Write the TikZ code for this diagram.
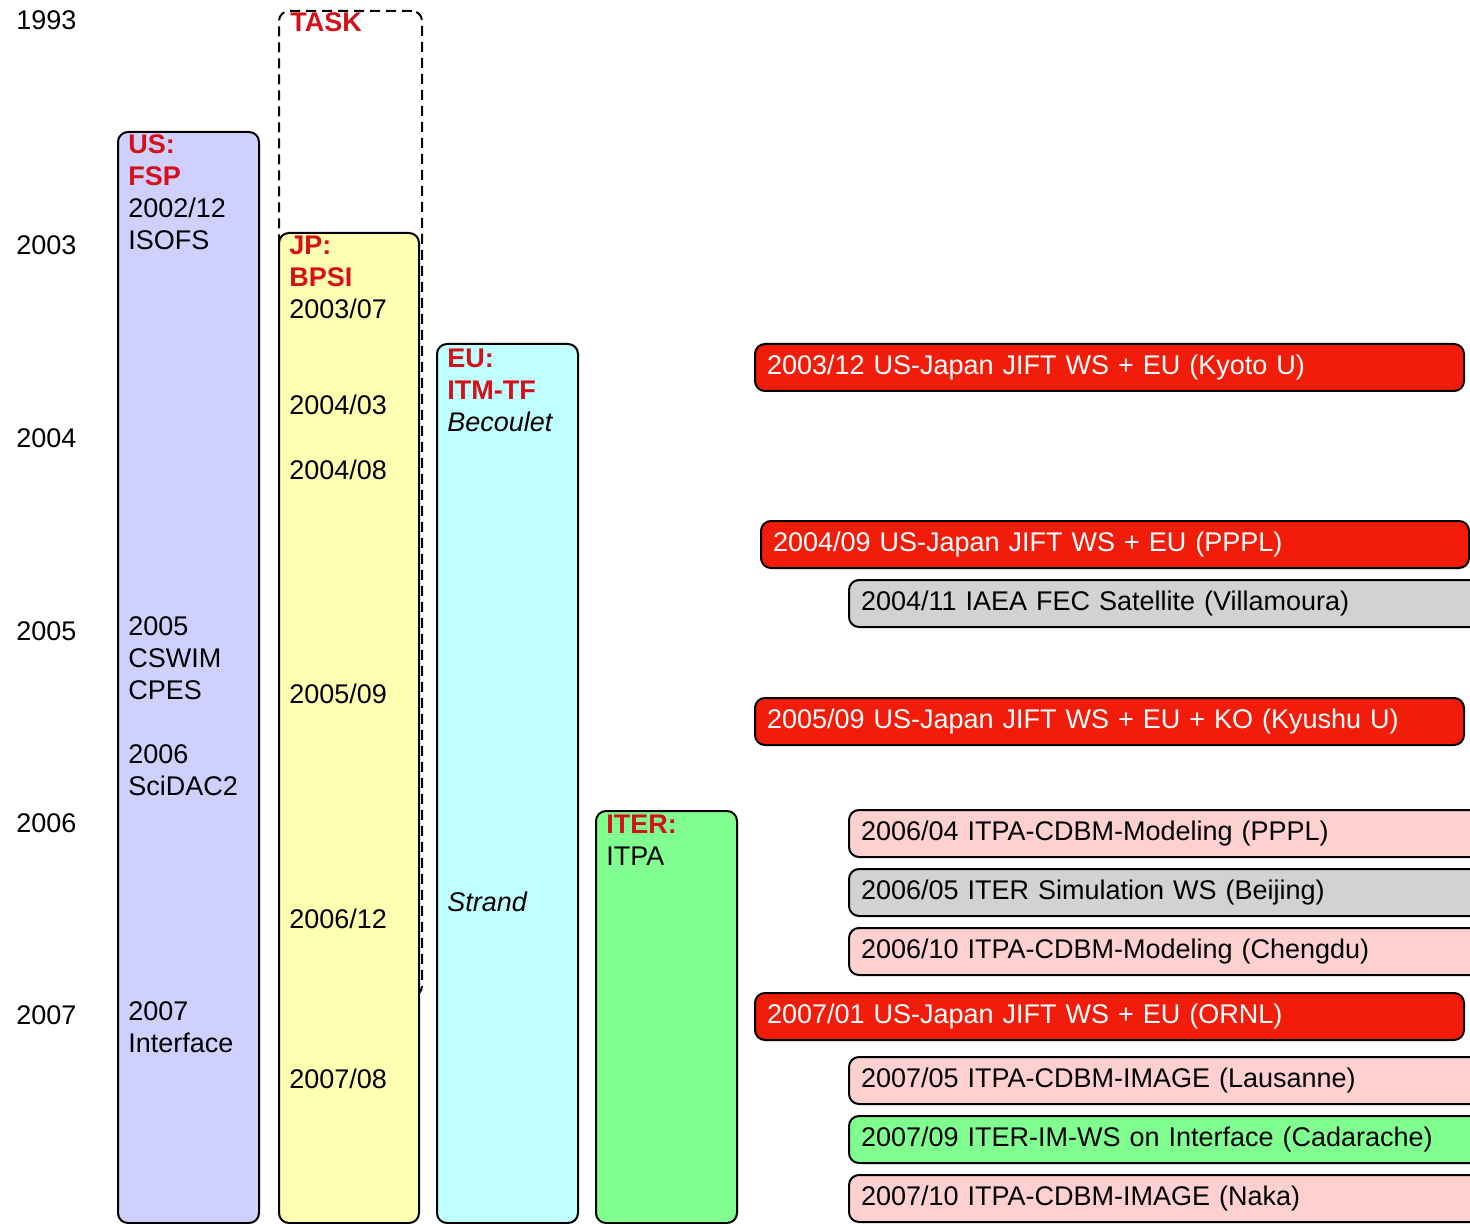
\documentclass[tikz,border=0pt]{standalone}
\usepackage{fontspec}
\setmainfont{Liberation Sans}
\usetikzlibrary{positioning}

\definecolor{usfill}{RGB}{208,208,255}
\definecolor{jpfill}{RGB}{255,255,178}
\definecolor{eufill}{RGB}{192,255,255}
\definecolor{iterfill}{RGB}{128,255,144}
\definecolor{hdred}{RGB}{212,16,24}
\definecolor{jiftred}{RGB}{242,28,10}
\definecolor{itpapink}{RGB}{255,208,208}
\definecolor{mtggray}{RGB}{210,210,210}

\newcommand{\hdtext}[1]{\textcolor{hdred}{\bfseries #1}}

\begin{document}
\begin{tikzpicture}[x=0.5pt, y=-0.5pt, font=\fontsize{13.5}{16}\selectfont,
    col/.style={rectangle, draw, line width=1pt, rounded corners=5pt, anchor=north west, inner sep=0pt},
    lbl/.style={anchor=base west, align=left, inner sep=0pt},
    ev/.style={rectangle, draw, line width=1pt, rounded corners=5pt, anchor=north west, minimum height=23.5pt, align=left, inner xsep=6pt, inner ysep=0pt},
    jift/.style={ev, fill=jiftred, text=white, text width=342.5pt},
    itpa/.style={ev, fill=itpapink, text width=313pt},
    mtg/.style={ev, fill=mtggray, text width=313pt},
    iterws/.style={ev, fill=iterfill, text width=313pt}]

    \clip (0,0) rectangle (1470,1224);

    % years
    \node[lbl] (y1993) at (16,30) {1993};
    \node[lbl] (y2003) at (16,255) {2003};
    \node[lbl] (y2004) at (16,447) {2004};
    \node[lbl] (y2005) at (16,640) {2005};
    \node[lbl] (y2006) at (16,832) {2006};
    \node[lbl] (y2007) at (16,1024) {2007};

    % project columns
    \node[col, dash pattern=on 5pt off 3pt, minimum width=71.5pt, minimum height=492.5pt] (task) at (278,10) {};
    \node[col, fill=usfill, minimum width=70.5pt, minimum height=545.5pt] (us) at (117,131) {};
    \node[col, fill=jpfill, minimum width=70pt, minimum height=495pt] (jp) at (278,232) {};
    \node[col, fill=eufill, minimum width=70.5pt, minimum height=439.5pt] (eu) at (436,343) {};
    \node[col, fill=iterfill, minimum width=70.5pt, minimum height=206pt] (iter) at (595,810) {};

    \node[lbl] (tasklbl) at (290,32) {\hdtext{TASK}};

    % base = last line
    \node[lbl] (us1) at (128,250) {\hdtext{US:}\\\hdtext{FSP}\\2002/12\\ISOFS};
    \node[lbl] (us2) at (128,699) {2005\\CSWIM\\CPES};
    \node[lbl] (us3) at (128,795) {2006\\SciDAC2};
    \node[lbl] (us4) at (128,1052) {2007\\Interface};

    \node[lbl] (jp1) at (289,319) {\hdtext{JP:}\\\hdtext{BPSI}\\2003/07};
    \node[lbl] (jp2) at (289,415) {2004/03};
    \node[lbl] (jp3) at (289,479) {2004/08};
    \node[lbl] (jp4) at (289,703) {2005/09};
    \node[lbl] (jp5) at (289,928) {2006/12};
    \node[lbl] (jp6) at (289,1088) {2007/08};

    \node[lbl] (eu1) at (447,431) {\hdtext{EU:}\\\hdtext{ITM-TF}\\\textit{Becoulet}};
    \node[lbl] (eu2) at (447,911) {\textit{Strand}};

    \node[lbl] (iter1) at (606,865) {\hdtext{ITER:}\\ITPA};

    % meetings
    \node[jift] (m1) at (754,343) {2003/12 US-Japan JIFT WS + EU (Kyoto U)};
    \node[jift, text width=342pt] (m2) at (760,520) {2004/09 US-Japan JIFT WS + EU (PPPL)};
    \node[mtg] (m3) at (848,579) {2004/11 IAEA FEC Satellite (Villamoura)};
    \node[jift] (m4) at (754,697) {2005/09 US-Japan JIFT WS + EU + KO (Kyushu U)};
    \node[itpa] (m5) at (848,809) {2006/04 ITPA-CDBM-Modeling (PPPL)};
    \node[mtg] (m6) at (848,868) {2006/05 ITER Simulation WS (Beijing)};
    \node[itpa] (m7) at (848,927) {2006/10 ITPA-CDBM-Modeling (Chengdu)};
    \node[jift] (m8) at (754,992) {2007/01 US-Japan JIFT WS + EU (ORNL)};
    \node[itpa] (m9) at (848,1056) {2007/05 ITPA-CDBM-IMAGE (Lausanne)};
    \node[iterws] (m10) at (848,1115) {2007/09 ITER-IM-WS on Interface (Cadarache)};
    \node[itpa] (m11) at (848,1174) {2007/10 ITPA-CDBM-IMAGE (Naka)};

\end{tikzpicture}
\end{document}
